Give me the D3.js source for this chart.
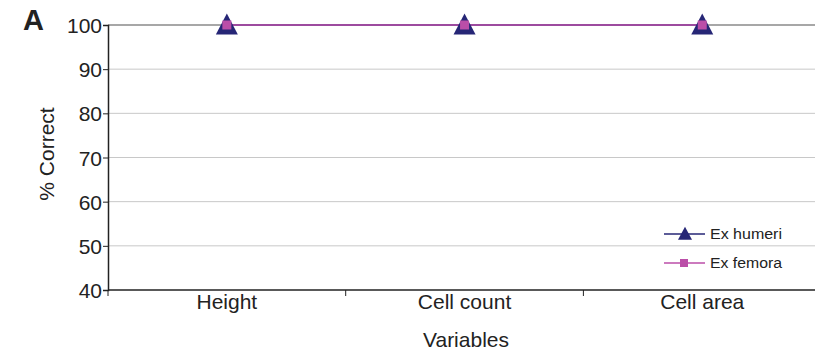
<!DOCTYPE html>
<html><head><meta charset="utf-8">
<script src="https://cdn.jsdelivr.net/npm/d3@7"></script>
<style>body{margin:0;background:#fff}svg{display:block;font-family:"Liberation Sans",Arial,sans-serif}</style>
</head><body><svg id="c" width="815" height="354"></svg>
<script>
const categories = ["Height", "Cell count", "Cell area"];
const exHumeri = [100, 100, 100];
const exFemora = [100, 100, 100];
const yTicks = [40, 50, 60, 70, 80, 90, 100];
const seriesNames = ["Ex humeri", "Ex femora"];

const svg = d3.select("#c");
const m = {l:108, t:25, b:290};
const x = d3.scaleBand().domain(categories).range([m.l, m.l + 3*237.7]);
const y = d3.scaleLinear().domain([40, 100]).range([m.b, m.t]);
const ink = "#222";

// grid
svg.append("g").selectAll("line").data(yTicks.filter(d=>d>40)).join("line")
  .attr("x1", m.l).attr("x2", 815).attr("y1", d=>y(d)).attr("y2", d=>y(d))
  .attr("stroke", d=>d===100?"#8a8a8a":"#c8c8c8").attr("stroke-width", d=>d===100?1.6:1);

// y axis
const ya = svg.append("g").attr("transform", `translate(${m.l},0)`)
  .call(d3.axisLeft(y).tickValues(yTicks).tickSize(5).tickPadding(1));
ya.select(".domain").attr("stroke", ink).attr("stroke-width", 1.5);
ya.selectAll(".tick line").attr("stroke", ink);
ya.selectAll("text").attr("font-size", 21).attr("fill", ink).attr("dy","0.36em")
  .attr("font-family","Liberation Sans, Arial, sans-serif");

// x axis
svg.append("line").attr("x1", m.l).attr("x2", 815).attr("y1", m.b).attr("y2", m.b).attr("stroke", ink).attr("stroke-width", 1.5);
const bounds = categories.map(c=>x(c)).concat([x(categories[2])+x.bandwidth()]);
svg.append("g").selectAll("line").data(bounds).join("line")
  .attr("x1", d=>d).attr("x2", d=>d).attr("y1", m.b).attr("y2", m.b+6).attr("stroke", ink);
svg.append("g").selectAll("text").data(categories).join("text")
  .attr("x", d=>x(d)+x.bandwidth()/2).attr("y", 309).attr("text-anchor","middle")
  .attr("font-size", 21).attr("fill",ink).text(d=>d);

// axis titles
svg.append("text").attr("x", 466).attr("y", 347).attr("text-anchor","middle").attr("font-size",21).attr("fill",ink).text("Variables");
svg.append("text").attr("transform","translate(54,154) rotate(-90)").attr("text-anchor","middle").attr("font-size",21).attr("fill",ink).text("% Correct");
svg.append("text").attr("x", 23).attr("y", 30).attr("font-size", 29).attr("font-weight","bold").attr("fill",ink).text("A");

const cx = d=>x(d)+x.bandwidth()/2;
const navy = "#262676", pink = "#bb4ea8";
const triangle = (w, h) => ({draw(ctx){ ctx.moveTo(0,-h*0.55); ctx.lineTo(w/2,h*0.45); ctx.lineTo(-w/2,h*0.45); ctx.closePath(); }});
const line = d3.line().x((d,i)=>cx(categories[i])).y(d=>y(d));
svg.append("path").datum(exHumeri).attr("d", line).attr("fill","none").attr("stroke", navy).attr("stroke-width",1.5);
svg.append("path").datum(exFemora).attr("d", line).attr("fill","none").attr("stroke", pink).attr("stroke-width",1.5);
svg.append("g").selectAll("path").data(exHumeri).join("path")
  .attr("d", d3.symbol().type(triangle(22, 21))()).attr("transform",(d,i)=>`translate(${cx(categories[i])},${y(d)})`).attr("fill", navy);
svg.append("g").selectAll("rect").data(exFemora).join("rect")
  .attr("x",(d,i)=>cx(categories[i])-4.5).attr("y", d=>y(d)-4.5).attr("width",9).attr("height",9).attr("fill", pink);

// legend
const leg = svg.append("g");
[[navy,"tri",234],[pink,"sq",263]].forEach(([col,t,ly],i)=>{
  leg.append("line").attr("x1",664).attr("x2",705).attr("y1",ly).attr("y2",ly).attr("stroke",col).attr("stroke-width",1.3);
  if(t==="tri") leg.append("path").attr("d", d3.symbol().type(triangle(14, 13))()).attr("transform",`translate(685,${ly})`).attr("fill",col);
  else leg.append("rect").attr("x",680).attr("y",ly-4).attr("width",8).attr("height",8).attr("fill",col);
  leg.append("text").attr("x",710).attr("y",ly+4.5).attr("font-size",14).attr("fill",ink)
    .attr("textLength", 72).attr("lengthAdjust","spacingAndGlyphs").text(seriesNames[i]);
});
</script></body></html>
